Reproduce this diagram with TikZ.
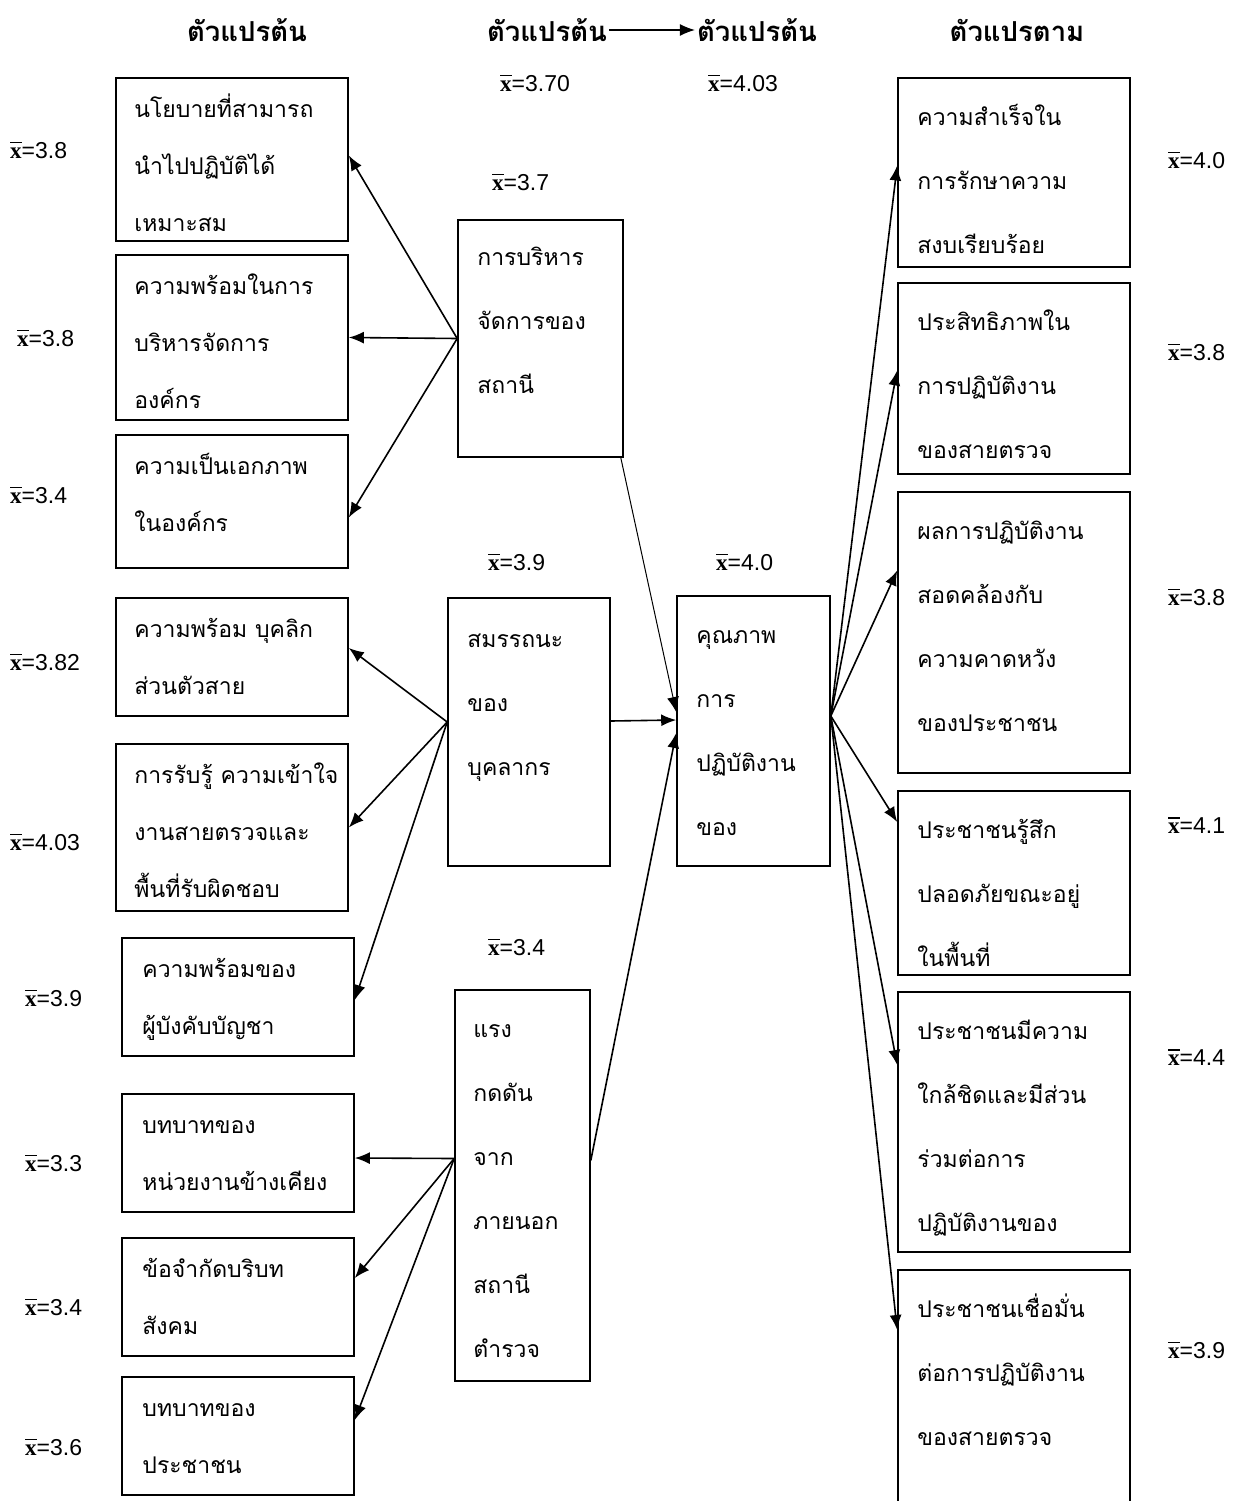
\documentclass[tikz,border=0pt]{standalone}
\usepackage{fontspec}
\newfontfamily\thai[Script=Thai]{Loma}
\newfontfamily\num{Liberation Sans}
\newfontfamily\xfont{Liberation Serif}
\usepackage{tikz}
\usetikzlibrary{arrows.meta}
\tikzset{var box/.style={draw,rectangle,line width=1.6pt,inner sep=0pt},
  var text/.style={anchor=north west,align=left,inner sep=0pt,
    font=\thai\fontsize{23}{57}\selectfont},
  wide text/.style={var text,font=\thai\fontsize{23}{64}\selectfont},
  mean/.style={anchor=west,inner sep=0pt,font=\num\fontsize{23}{26}\selectfont},
  head/.style={inner sep=2pt,font=\thai\bfseries\fontsize{27.5}{30}\selectfont},
  arr/.style={-{Latex[length=15pt,width=12pt]},line width=1.6pt},
}
\newcommand{\xbar}[1]{{\xfont\bfseries\rlap{\rule[0.64em]{0.5em}{0.08em}}x}=#1}
\newcommand{\ls}{\rule{0pt}{28pt}}

\begin{document}
\begin{tikzpicture}[x=1pt,y=-1pt]
\clip (0,0) rectangle (1251,1501);

%% headings
\node[head] (h1) at (247,30) {ตัวแปรต้น};
\node[head] (h2) at (547,30) {ตัวแปรต้น};
\node[head] (h3) at (757,30) {ตัวแปรต้น};
\node[head] (h4) at (1017,30) {ตัวแปรตาม};
\draw[arr,line width=1.1pt] (h2.east) -- (h3.west);

%% left column
\node[var box,minimum width=232,minimum height=163] (b1) at (232,159.5) {};
\node[var box,minimum width=232,minimum height=165] (b2) at (232,337.5) {};
\node[var box,minimum width=232,minimum height=133] (b3) at (232,501.5) {};
\node[var box,minimum width=232,minimum height=118] (b4) at (232,657) {};
\node[var box,minimum width=232,minimum height=167] (b5) at (232,827.5) {};
\node[var box,minimum width=232,minimum height=118] (b6) at (238,997) {};
\node[var box,minimum width=232,minimum height=118] (b7) at (238,1153) {};
\node[var box,minimum width=232,minimum height=118] (b8) at (238,1297) {};
\node[var box,minimum width=232,minimum height=118] (b9) at (238,1436) {};

\node[var text] (t1) at ([xshift=19pt,yshift=-12pt]b1.north west) {\ls นโยบายที่สามารถ\\นำไปปฏิบัติได้\\เหมาะสม};
\node[var text] (t2) at ([xshift=19pt,yshift=-12pt]b2.north west) {\ls ความพร้อมในการ\\บริหารจัดการ\\องค์กร};
\node[var text] (t3) at ([xshift=19pt,yshift=-12pt]b3.north west) {\ls ความเป็นเอกภาพ\\ในองค์กร};
\node[var text] (t4) at ([xshift=19pt,yshift=-12pt]b4.north west) {\ls ความพร้อม บุคลิก\\ส่วนตัวสาย};
\node[var text] (t5) at ([xshift=19pt,yshift=-12pt]b5.north west) {\ls การรับรู้ ความเข้าใจ\\งานสายตรวจและ\\พื้นที่รับผิดชอบ};
\node[var text] (t6) at ([xshift=21pt,yshift=-12pt]b6.north west) {\ls ความพร้อมของ\\ผู้บังคับบัญชา};
\node[var text] (t7) at ([xshift=21pt,yshift=-12pt]b7.north west) {\ls บทบาทของ\\หน่วยงานข้างเคียง};
\node[var text] (t8) at ([xshift=21pt,yshift=-12pt]b8.north west) {\ls ข้อจำกัดบริบท\\สังคม};
\node[var text] (t9) at ([xshift=21pt,yshift=-12pt]b9.north west) {\ls บทบาทของ\\ประชาชน};

\node[mean] (m1) at (10,150) {\xbar{3.8}};
\node[mean] (m2) at (17,338) {\xbar{3.8}};
\node[mean] (m3) at (10,495) {\xbar{3.4}};
\node[mean] (m4) at (10,662) {\xbar{3.82}};
\node[mean] (m5) at (10,842) {\xbar{4.03}};
\node[mean] (m6) at (25,998) {\xbar{3.9}};
\node[mean] (m7) at (25,1163) {\xbar{3.3}};
\node[mean] (m8) at (25,1307) {\xbar{3.4}};
\node[mean] (m9) at (25,1447) {\xbar{3.6}};

%% middle column
\node[var box,minimum width=165,minimum height=237] (mgmt) at (540.5,338.5) {};
\node[var box,minimum width=162,minimum height=268] (comp) at (529,732) {};
\node[var box,minimum width=135,minimum height=391] (press) at (522.5,1185.5) {};
\node[var box,minimum width=153,minimum height=270] (qual) at (753.5,731) {};

\node[wide text] (tm) at ([xshift=20pt,yshift=-18pt]mgmt.north west) {\ls การบริหาร\\จัดการของ\\สถานี};
\node[wide text] (tc) at ([xshift=20pt,yshift=-22pt]comp.north west) {\ls สมรรถนะ\\ของ\\บุคลากร};
\node[wide text] (tp) at ([xshift=19pt,yshift=-20pt]press.north west) {\ls แรง\\กดดัน\\จาก\\ภายนอก\\สถานี\\ตำรวจ};
\node[wide text] (tq) at ([xshift=20pt,yshift=-20pt]qual.north west) {\ls คุณภาพ\\การ\\ปฏิบัติงาน\\ของ};

\node[mean] (ma) at (500,83) {\xbar{3.70}};
\node[mean] (mb) at (708,83) {\xbar{4.03}};
\node[mean] (mc) at (492,182) {\xbar{3.7}};
\node[mean] (md) at (488,562) {\xbar{3.9}};
\node[mean] (me) at (716,562) {\xbar{4.0}};
\node[mean] (mf) at (488,947) {\xbar{3.4}};

%% right column
\node[var box,minimum width=232,minimum height=189] (r1) at (1014,172.5) {};
\node[var box,minimum width=232,minimum height=191] (r2) at (1014,378.5) {};
\node[var box,minimum width=232,minimum height=281] (r3) at (1014,632.5) {};
\node[var box,minimum width=232,minimum height=184] (r4) at (1014,883) {};
\node[var box,minimum width=232,minimum height=260] (r5) at (1014,1122) {};
\node[var box,minimum width=232,minimum height=290] (r6) at (1014,1415) {};

\node[wide text] (s1) at ([xshift=20pt,yshift=-20pt]r1.north west) {\ls ความสำเร็จใน\\การรักษาความ\\สงบเรียบร้อย};
\node[wide text] (s2) at ([xshift=20pt,yshift=-20pt]r2.north west) {\ls ประสิทธิภาพใน\\การปฏิบัติงาน\\ของสายตรวจ};
\node[wide text] (s3) at ([xshift=20pt,yshift=-20pt]r3.north west) {\ls ผลการปฏิบัติงาน\\สอดคล้องกับ\\ความคาดหวัง\\ของประชาชน};
\node[wide text] (s4) at ([xshift=20pt,yshift=-20pt]r4.north west) {\ls ประชาชนรู้สึก\\ปลอดภัยขณะอยู่\\ในพื้นที่};
\node[wide text] (s5) at ([xshift=20pt,yshift=-20pt]r5.north west) {\ls ประชาชนมีความ\\ใกล้ชิดและมีส่วน\\ร่วมต่อการ\\ปฏิบัติงานของ};
\node[wide text] (s6) at ([xshift=20pt,yshift=-20pt]r6.north west) {\ls ประชาชนเชื่อมั่น\\ต่อการปฏิบัติงาน\\ของสายตรวจ};

\node[mean] (n1) at (1168,160) {\xbar{4.0}};
\node[mean] (n2) at (1168,352) {\xbar{3.8}};
\node[mean] (n3) at (1168,597) {\xbar{3.8}};
\node[mean] (n4) at (1168,825) {\xbar{4.1}};
\node[mean] (n5) at (1168,1057) {\xbar{4.4}};
\node[mean] (n6) at (1168,1350) {\xbar{3.9}};

%% arrows
\draw[arr] (mgmt.west) -- ([yshift=4pt]b1.east);
\draw[arr] (mgmt.west) -- (b2.east);
\draw[arr] (mgmt.west) -- ([yshift=-16pt]b3.east);
\draw[arr,line width=1pt] ([xshift=-3pt]mgmt.south east) -- ([yshift=19pt]qual.west);

\draw[arr] ([yshift=10pt]comp.west) -- ([yshift=9pt]b4.east);
\draw[arr] ([yshift=10pt]comp.west) -- (b5.east);
\draw[arr] ([yshift=10pt]comp.west) -- ([yshift=-3pt]b6.east);
\draw[arr] ([yshift=11pt]comp.east) -- ([yshift=11pt]qual.west);

\draw[arr] ([yshift=27pt]press.west) -- ([yshift=-5pt]b7.east);
\draw[arr] ([yshift=27pt]press.west) -- ([yshift=19pt]b8.east);
\draw[arr] ([yshift=27pt]press.west) -- ([yshift=16pt]b9.east);
\draw[arr] ([yshift=25pt]press.east) -- ([yshift=-2pt]qual.west);

\draw[arr] ([yshift=15pt]qual.east) -- ([yshift=7pt]r1.west);
\draw[arr] ([yshift=15pt]qual.east) -- ([yshift=8pt]r2.west);
\draw[arr] ([yshift=15pt]qual.east) -- ([yshift=62pt]r3.west);
\draw[arr] ([yshift=15pt]qual.east) -- ([yshift=61pt]r4.west);
\draw[arr] ([yshift=15pt]qual.east) -- ([yshift=57pt]r5.west);
\draw[arr] ([yshift=15pt]qual.east) -- ([yshift=85pt]r6.west);
\end{tikzpicture}
\end{document}
